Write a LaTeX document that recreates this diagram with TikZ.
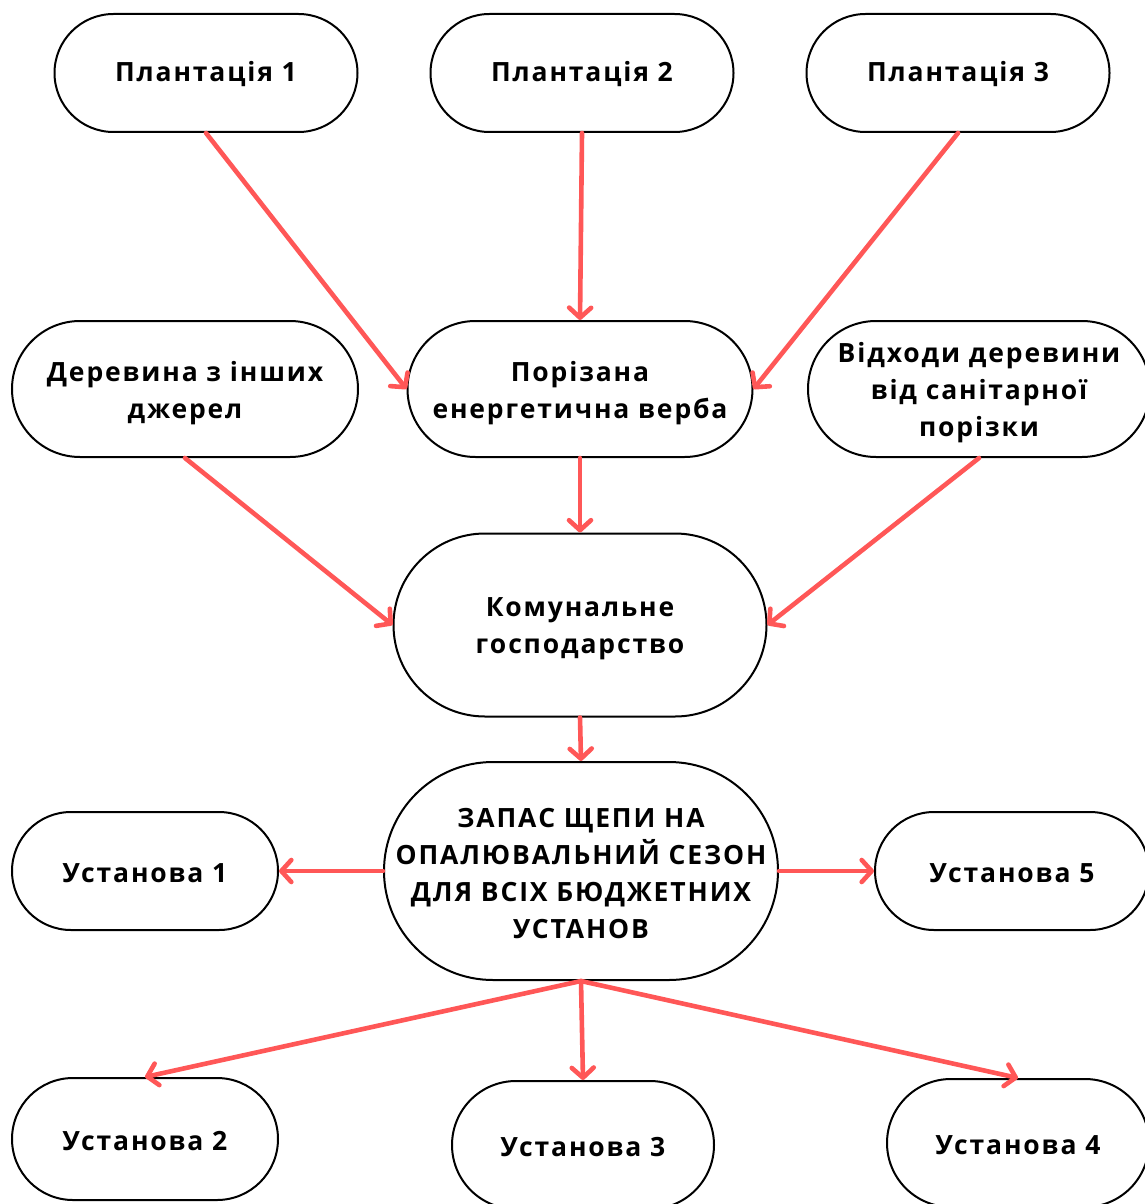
\documentclass[tikz,border=0pt]{standalone}
\usepackage{fontspec}
\setmainfont{Open Sans}[LetterSpace=7]
\usetikzlibrary{arrows.meta}
\definecolor{arrred}{HTML}{FF5757}
\newcommand{\boxfont}{\fontsize{26.5}{37}\selectfont\bfseries}
\tikzset{
  box/.style={draw=black, line width=2pt, fill=white, align=center, inner sep=0pt, font=\boxfont, text height=23pt},
  pill/.style 2 args={box, minimum width=#1, minimum height=#2, rounded corners=#2/2},
  lower/.style={text height=#1},
  arr/.style={draw=arrred, line width=4.6pt, line cap=round, -{Straight Barb[length=10pt,width=22pt,line cap=round,line join=round]}},
}
\begin{document}
\begin{tikzpicture}[x=1pt,y=-1pt]
\useasboundingbox[fill=white] (0,0) rectangle (1145,1204);
\node[pill={303pt}{118pt}] (p1) at (206,73) {Плантація 1};
\node[pill={303pt}{118pt}] (p2) at (582,73) {Плантація 2};
\node[pill={303pt}{118pt}] (p3) at (958,73) {Плантація 3};
\node[pill={346pt}{136pt}, lower=66pt] (d) at (185,389) {Деревина з інших\\джерел};
\node[pill={345pt}{136pt}, lower=66pt] (v) at (580,389) {Порізана\\енергетична верба};
\node[pill={342pt}{136pt}, lower=101pt] (w) at (979,389) {Відходи деревини\\від санітарної\\порізки};
\node[pill={373pt}{183pt}, lower=64pt] (k) at (580,625) {Комунальне\\господарство};
\node[pill={394pt}{218pt}, lower=136pt] (z) at (581,871) {ЗАПАС ЩЕПИ НА\\ОПАЛЮВАЛЬНИЙ СЕЗОН\\ДЛЯ ВСІХ БЮДЖЕТНИХ\\УСТАНОВ};
\node[pill={266pt}{118pt}] (u1) at (145,871) {Установа 1};
\node[pill={274pt}{118pt}] (u5) at (1012,871) {Установа 5};
\node[pill={266pt}{122pt}] (u2) at (145,1139) {Установа 2};
\node[pill={262pt}{128pt}] (u3) at (583,1145) {Установа 3};
\node[pill={262pt}{128pt}] (u4) at (1018,1143) {Установа 4};
\draw[arr] (p1.south) -- (v.west);
\draw[arr] (p2.south) -- (v.north);
\draw[arr] (p3.south) -- (v.east);
\draw[arr] (v.south) -- (k.north);
\draw[arr] (d.south) -- (k.west);
\draw[arr] (w.south) -- (k.east);
\draw[arr] (k.south) -- (z.north);
\draw[arr] (z.west) -- (u1.east);
\draw[arr] (z.east) -- (u5.west);
\draw[arr] (z.south) -- (u2.north);
\draw[arr] (z.south) -- (u3.north);
\draw[arr] (z.south) -- (u4.north);
\end{tikzpicture}
\end{document}
